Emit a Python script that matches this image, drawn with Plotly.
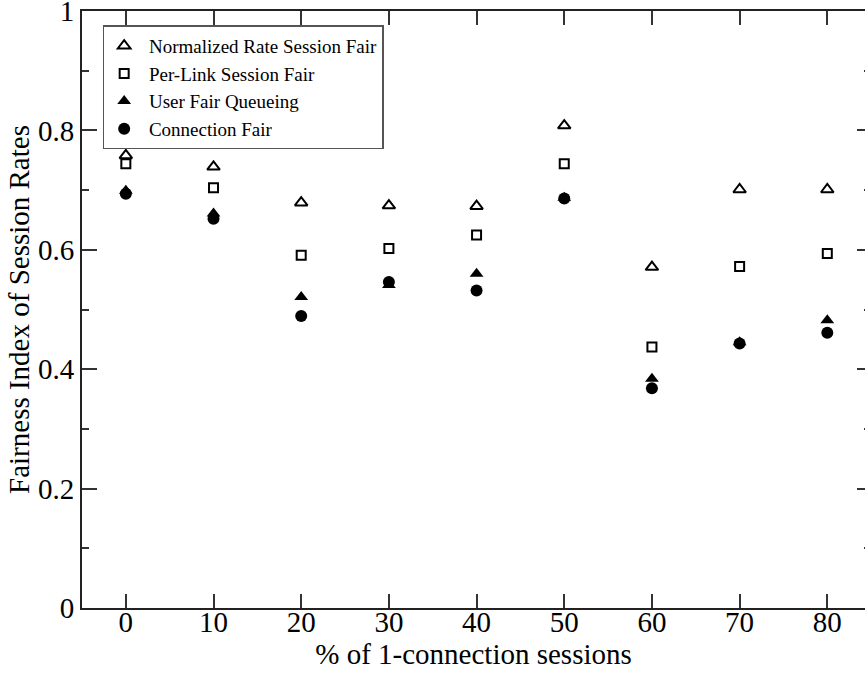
import plotly.graph_objects as go

# ---- data ----
x_pct = [0, 10, 20, 30, 40, 50, 60, 70, 80]
normalized_rate_session_fair = [0.758, 0.739, 0.679, 0.674, 0.673, 0.808, 0.571, 0.701, 0.701]
per_link_session_fair = [0.744, 0.704, 0.591, 0.602, 0.625, 0.744, 0.437, 0.572, 0.594]
user_fair_queueing = [0.699, 0.661, 0.521, 0.541, 0.560, 0.687, 0.384, 0.445, 0.482]
connection_fair = [0.694, 0.652, 0.489, 0.546, 0.532, 0.686, 0.368, 0.443, 0.461]

x_ticks = [0, 10, 20, 30, 40, 50, 60, 70, 80]
y_ticks = [0, 0.2, 0.4, 0.6, 0.8, 1.0]
y_tick_labels = ["0", "0.2", "0.4", "0.6", "0.8", "1"]

FONT = "Liberation Serif"
AX = "#222222"

fig = go.Figure()
fig.add_trace(go.Scatter(
    x=x_pct, y=normalized_rate_session_fair, mode="markers",
    name=" Normalized Rate Session Fair",
    marker=dict(symbol="triangle-up-open", size=11, color="black", line=dict(width=2, color="black")),
))
fig.add_trace(go.Scatter(
    x=x_pct, y=per_link_session_fair, mode="markers",
    name=" Per-Link Session Fair",
    marker=dict(symbol="square-open", size=9, color="black", line=dict(width=2, color="black")),
))
fig.add_trace(go.Scatter(
    x=x_pct, y=user_fair_queueing, mode="markers",
    name=" User Fair Queueing",
    marker=dict(symbol="triangle-up", size=12, color="black", line=dict(width=0)),
))
fig.add_trace(go.Scatter(
    x=x_pct, y=connection_fair, mode="markers",
    name=" Connection Fair",
    marker=dict(symbol="circle", size=12, color="black", line=dict(width=0)),
))
# empty trace so the right-hand tick axis is drawn
fig.add_trace(go.Scatter(x=[], y=[], yaxis="y2", showlegend=False, hoverinfo="skip"))

fig.update_layout(
    width=865, height=673,
    margin=dict(l=82, r=0, t=11, b=65, autoexpand=False),
    paper_bgcolor="white", plot_bgcolor="white",
    font=dict(family=FONT, color="black", size=29),
    xaxis=dict(
        range=[-5, 84.3], tickvals=x_ticks, ticktext=[str(v) for v in x_ticks],
        ticks="inside", ticklen=14, tickwidth=1.5, tickcolor="#333333",
        showline=True, linecolor=AX, linewidth=2, mirror="ticks",
        showgrid=False, zeroline=False,
        tickfont=dict(family=FONT, size=29), ticklabelstandoff=-13,
        title=dict(text="% of 1-connection sessions", font=dict(family=FONT, size=29), standoff=0),
        automargin=False,
    ),
    yaxis=dict(
        range=[0, 1], tickvals=y_ticks, ticktext=y_tick_labels,
        ticks="inside", ticklen=15, tickwidth=1.5, tickcolor="#333333",
        minor=dict(dtick=0.1, ticks="inside", ticklen=7, tickwidth=1.5, tickcolor="#333333", showgrid=False),
        showline=True, linecolor=AX, linewidth=2, mirror=False,
        showgrid=False, zeroline=False,
        tickfont=dict(family=FONT, size=29), ticklabeloverflow="allow",
        title=dict(text="Fairness Index of Session Rates", font=dict(family=FONT, size=29), standoff=0),
        automargin=False,
    ),
    yaxis2=dict(
        range=[0, 1], overlaying="y", side="right", tickvals=y_ticks,
        ticks="inside", ticklen=8, tickwidth=1.5, tickcolor="#333333",
        minor=dict(dtick=0.1, ticks="inside", ticklen=1, tickwidth=1.5, tickcolor="#333333", showgrid=False),
        showticklabels=False, showline=False, showgrid=False, zeroline=False,
    ),
    legend=dict(
        x=0.0264, y=0.976, xanchor="left", yanchor="top",
        bgcolor="rgba(255,255,255,0)", bordercolor="#555555", borderwidth=1.5,
        font=dict(family=FONT, size=19, color="black"),
        tracegroupgap=0, itemwidth=30,
    ),
    showlegend=True,
)

fig.write_html("out.html")
